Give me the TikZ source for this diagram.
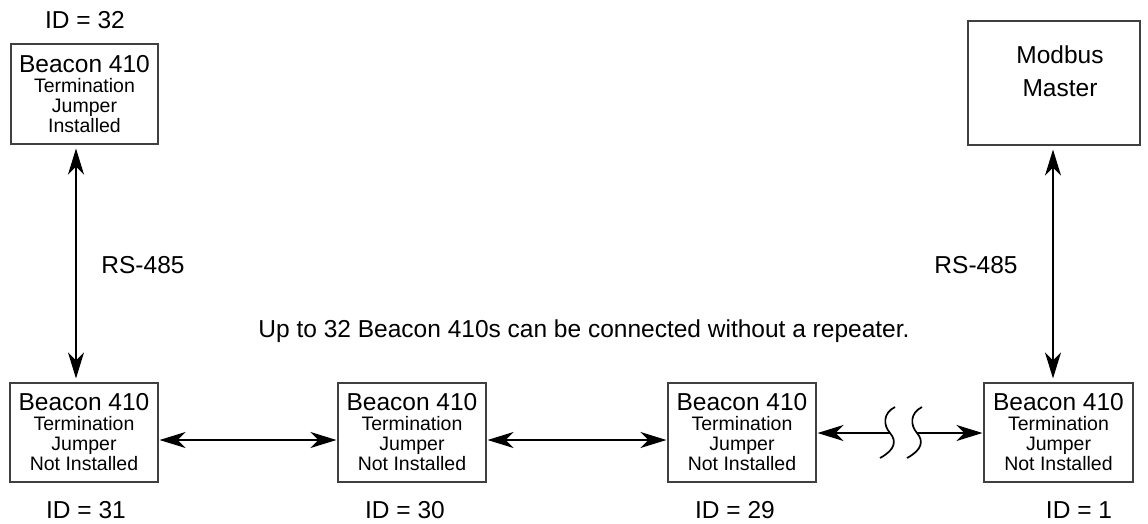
\documentclass[tikz,border=0pt]{standalone}
\usepackage{fontspec}
\setmainfont{Liberation Sans}
\usetikzlibrary{arrows.meta}
\newcommand{\bigtxt}{\fontsize{24.5}{34}\selectfont}
\newcommand{\smalltxt}{\fontsize{19.5}{20}\selectfont}
\begin{document}
\begin{tikzpicture}[x=1pt,y=-1pt,
  >={Stealth[length=26pt,width=16pt,inset=8pt]},
  unitbox/.style={draw=black!75,line width=1.1pt,inner sep=0pt,align=center,font=\smalltxt},
  lbl/.style={font=\bigtxt,anchor=base,inner sep=0pt},
  link/.style={line width=1.8pt,<->},
  half/.style={line width=1.8pt,->},
  brk/.style={line width=1.7pt}]
\useasboundingbox (0,0) rectangle (1148,523);
% boxes
\node[unitbox,minimum width=147pt,minimum height=100pt] (b32) at (84.5,94)
  {{\bigtxt Beacon 410}\\Termination\\Jumper\\Installed};
\node[draw=black!75,line width=1.1pt,minimum width=172pt,minimum height=124pt,inner sep=0pt] (mm) at (1054,83) {};
\node[font=\bigtxt,align=center,inner sep=0pt] (mmtext) at (1060,71) {Modbus\\[-0.5pt]Master};
\node[unitbox,minimum width=148pt,minimum height=99pt] (b31) at (84,432.5)
  {{\bigtxt Beacon 410}\\Termination\\Jumper\\Not Installed};
\node[unitbox,minimum width=148pt,minimum height=99pt] (b30) at (412,432.5)
  {{\bigtxt Beacon 410}\\Termination\\Jumper\\Not Installed};
\node[unitbox,minimum width=148pt,minimum height=99pt] (b29) at (742,432.5)
  {{\bigtxt Beacon 410}\\Termination\\Jumper\\Not Installed};
\node[unitbox,minimum width=149pt,minimum height=99pt] (b1) at (1058.5,432.5)
  {{\bigtxt Beacon 410}\\Termination\\Jumper\\Not Installed};
% labels
\node[lbl] (id32) at (85,28) {ID = 32};
\node[lbl] (id31) at (86,518) {ID = 31};
\node[lbl] (id30) at (405,518) {ID = 30};
\node[lbl] (id29) at (735,518) {ID = 29};
\node[lbl] (id1) at (1079,518) {ID = 1};
\node[lbl] (rsL) at (143,273) {RS-485};
\node[lbl] (rsR) at (976,273) {RS-485};
\node[lbl] (note) at (584,337) {Up to 32 Beacon 410s can be connected without a repeater.};
% guide coordinates
\coordinate (vL) at (76,0);
\coordinate (vR) at (1053,0);
\coordinate (hA) at (0,440);
\coordinate (brkL) at (890,433);
\coordinate (brkR) at (917,433);
% connectors
\draw[link,shorten <=4pt,shorten >=4pt] (b31.north -| vL) -- (b32.south -| vL);
\draw[link,shorten <=4pt,shorten >=4pt] (b1.north -| vR) -- (mm.south -| vR);
\draw[link,shorten <=1pt,shorten >=1pt] (b31.east |- hA) -- (b30.west |- hA);
\draw[link,shorten <=1pt,shorten >=1pt] (b30.east |- hA) -- (b29.west |- hA);
\draw[half,shorten >=1pt] (brkL) -- (b29.east |- brkL);
\draw[half,shorten >=1pt] (brkR) -- (b1.west |- brkR);
% break marks
\draw[brk] ([shift={(5,-26)}]brkL) .. controls ([shift={(-7,-20)}]brkL) and ([shift={(-7,-8)}]brkL) .. (brkL)
  .. controls ([shift={(7,8)}]brkL) and ([shift={(5,17)}]brkL) .. ([shift={(-10,25)}]brkL);
\draw[brk] ([shift={(5,-26)}]brkR) .. controls ([shift={(-7,-20)}]brkR) and ([shift={(-7,-8)}]brkR) .. (brkR)
  .. controls ([shift={(7,8)}]brkR) and ([shift={(5,17)}]brkR) .. ([shift={(-10,25)}]brkR);
\end{tikzpicture}
\end{document}
